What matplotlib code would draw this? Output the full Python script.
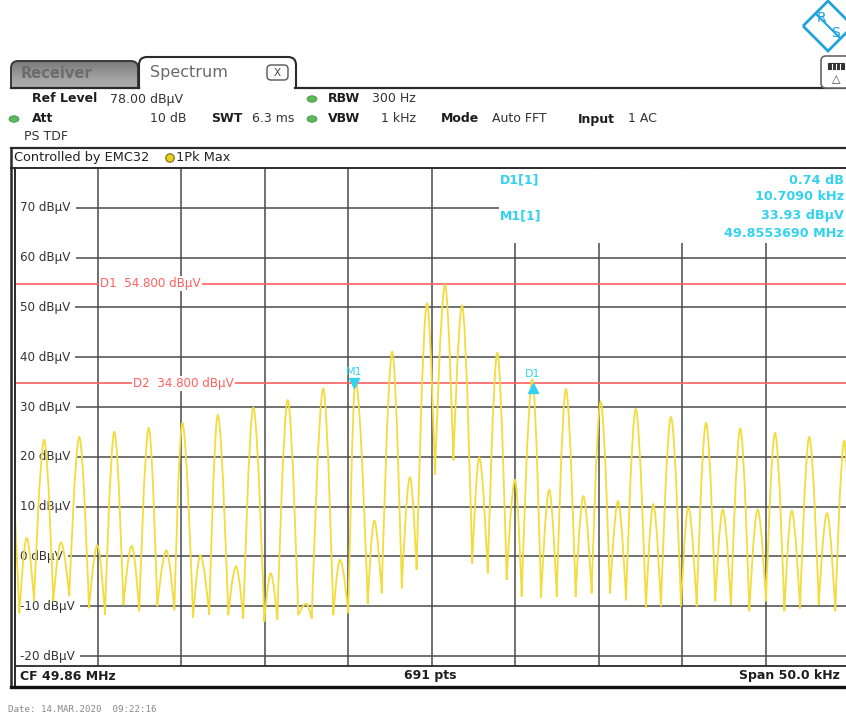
import matplotlib
matplotlib.use("Agg")
import matplotlib.pyplot as plt
from matplotlib.patches import Rectangle, FancyBboxPatch, Polygon, Ellipse, Circle, PathPatch
from matplotlib.path import Path
from matplotlib.colors import LinearSegmentedColormap
import numpy as np

W, H = 846, 721

# trace 1Pk Max: offset from CF in kHz and level in dBuV (peaks / dips)
freq_khz = [-25.00, -24.68, -24.24, -23.80, -23.19, -22.65, -22.19, -21.69, -21.09, -20.51,
            -20.01, -19.55, -18.99, -18.45, -17.95, -17.50, -16.93, -16.42, -15.88, -15.40,
            -14.92, -14.28, -13.84, -13.31, -12.80, -12.17, -11.71, -11.27, -10.67, -10.01,
            -9.63, -9.23, -8.61, -7.98, -7.51, -7.17, -6.48, -5.88, -5.48, -4.98,
            -4.55, -3.82, -3.43, -2.98, -2.35, -1.78, -1.29, -0.89, -0.27, 0.21,
            0.81, 1.31, 1.83, 2.44, 2.86, 3.37, 3.94, 4.50, 5.00, 5.40,
            6.04, 6.56, 7.05, 7.50, 8.05, 8.63, 9.09, 9.59, 10.13, 10.69,
            11.17, 11.65, 12.23, 12.84, 13.28, 13.74, 14.34, 14.94, 15.38, 15.88,
            16.44, 16.99, 17.44, 17.93, 18.49, 19.03, 19.53, 20.03, 20.57, 21.13,
            21.57, 22.07, 22.62, 23.19, 23.68, 24.18, 24.72, 25.00]
level_dbuv = [13.0, -11.4, 3.7, -9.0, 23.4, -9.0, 2.8, -8.0, 24.0, -10.4,
              2.2, -11.7, 25.0, -9.8, 2.1, -11.0, 25.8, -10.0, 1.2, -10.8,
              26.8, -12.3, 0.2, -11.7, 28.4, -11.8, -2.0, -12.5, 29.9, -13.1,
              -3.4, -12.7, 31.4, -11.8, -9.5, -12.5, 33.7, -11.8, -0.7, -11.4,
              35.5, -9.5, 7.2, -7.4, 41.1, -6.4, 15.9, -2.7, 50.8, 16.4,
              54.6, 19.3, 50.4, -1.4, 19.9, -3.4, 40.9, -4.7, 15.4, -8.1,
              35.5, -8.3, 13.4, -8.1, 33.6, -8.1, 12.1, -7.4, 31.1, -7.4,
              11.1, -8.8, 29.6, -10.3, 10.5, -10.0, 28.0, -10.0, 9.9, -10.0,
              26.8, -9.0, 9.4, -9.7, 25.7, -11.0, 9.4, -9.0, 24.8, -11.0,
              9.2, -10.5, 24.0, -9.7, 8.7, -11.0, 23.2, 5.0]

center_mhz = 49.86
span_khz = 50.0
ref_level = 78.0
db_per_div = 10
n_points = 691
y_ticks = [70, 60, 50, 40, 30, 20, 10, 0, -10, -20]

line_names = ["D1", "D2"]
line_levels = [54.8, 34.8]

m1_freq_mhz = 49.8553690
m1_level = 33.93
d1_delta_khz = 10.7090
d1_delta_db = 0.74

YELLOW = "#F2DC3E"
CYAN = "#33D2EE"
RED = "#FF6060"
GRID = "#4a4a4a"
DARK = "#2a2a2a"


def pixel_axes(fig, z):
    ax = fig.add_axes([0, 0, 1, 1], zorder=z)
    ax.set_xlim(0, W)
    ax.set_ylim(H, 0)
    ax.axis("off")
    return ax


def trace_path(xs, ys):
    # rounded lobes, sharp dips (like the analyzer's log display)
    verts = [(xs[0], ys[0])]
    codes = [Path.MOVETO]
    n = len(xs)
    for i in range(n - 1):
        x0, y0, x1, y1 = xs[i], ys[i], xs[i + 1], ys[i + 1]
        dx = x1 - x0
        top0 = 0 < i and y0 > ys[i - 1] and y0 > y1
        top1 = i + 2 < n and y1 > y0 and y1 > ys[i + 2]
        c1 = (x0 + 0.4 * dx, y0) if top0 else (x0, y0)
        c2 = (x1 - 0.4 * dx, y1) if top1 else (x1, y1)
        verts += [c1, c2, (x1, y1)]
        codes += [Path.CURVE4] * 3
    return Path(verts, codes)


def draw_header(bg):
    # Receiver tab (grey, inactive)
    tab = FancyBboxPatch((11, 61), 127, 34, boxstyle="round,pad=0,rounding_size=7",
                         fc="none", ec="#3a3a3a", lw=1.4, zorder=2)
    bg.add_patch(tab)
    cmap = LinearSegmentedColormap.from_list("tab", ["#7a7a7a", "#a2a2a2", "#b8b8b8"])
    grad = np.linspace(0, 1, 50).reshape(-1, 1)
    im = bg.imshow(grad, cmap=cmap, extent=[11, 138, 95, 61], aspect="auto", zorder=1)
    im.set_clip_path(tab)
    bg.text(21, 74, "Receiver", fontsize=10.5, fontweight="bold", color="#6c6c6c",
            va="center", zorder=3)

    # Spectrum tab (active)
    tab2 = FancyBboxPatch((139, 57), 157, 40, boxstyle="round,pad=0,rounding_size=8",
                          fc="white", ec=DARK, lw=1.5, zorder=2)
    bg.add_patch(tab2)
    bg.add_patch(Rectangle((4, 88.8), 300, 10, fc="white", ec="none", zorder=2.5))
    bg.text(150, 73, "Spectrum", fontsize=11.5, color="#6a6a6a", va="center", zorder=3)
    bg.add_patch(FancyBboxPatch((267, 65), 21, 15, boxstyle="round,pad=0,rounding_size=4",
                                fc="white", ec="#555555", lw=1.0, zorder=3))
    bg.text(277.5, 72.5, "X", fontsize=7.5, color="#444444", ha="center", va="center", zorder=4)
    bg.plot([295, W], [88, 88], color=DARK, lw=1.6, zorder=3)
    bg.plot([11, 139], [88, 88], color=DARK, lw=1.6, zorder=3)

    # settings rows
    rows = [
        (32, 99, "Ref Level", True), (110, 99, "78.00 dBµV", False),
        (328, 99, "RBW", True), (372, 99, "300 Hz", False),
        (32, 119, "Att", True), (150, 119, "10 dB", False),
        (211, 119, "SWT", True), (252, 119, "6.3 ms", False),
        (328, 119, "VBW", True), (381, 119, "1 kHz", False),
        (441, 119, "Mode", True), (492, 119, "Auto FFT", False),
        (578, 119, "Input", True), (628, 119, "1 AC", False),
        (24, 137, "PS TDF", False),
    ]
    for x, y, s, bold in rows:
        bg.text(x, y, s, fontsize=9, fontweight="bold" if bold else "normal",
                color="#1e1e1e" if bold else "#333333", va="center", zorder=3)
    for x, y in [(312, 99), (312, 119), (14, 119)]:
        bg.add_patch(Ellipse((x, y), 10, 6.5, fc="#5cb85c", ec="#3d8b3d", lw=0.5, zorder=3))

    # R&S logo
    logo = Polygon([(803, 26), (828, 1), (853, 26), (828, 51)], closed=True,
                   fc="none", ec="#1fa3dc", lw=2.0, zorder=3)
    bg.add_patch(logo)
    bg.plot([815.5, 840.5], [13.5, 38.5], color="#1fa3dc", lw=1.5, zorder=3)
    bg.text(821, 18, "R", fontsize=10, color="#1fa3dc", ha="center", va="center", zorder=3)
    bg.text(835, 33, "S", fontsize=10, color="#1fa3dc", ha="center", va="center", zorder=3)

    # small toolbar icon
    bg.add_patch(FancyBboxPatch((821, 56), 30, 32, boxstyle="round,pad=0,rounding_size=5",
                                fc="white", ec="#666666", lw=1.2, zorder=3))
    bg.add_patch(Rectangle((828, 63), 16, 6, fc="#333333", ec="#333333", lw=0.8, zorder=4))
    for xx in [832, 836, 840]:
        bg.plot([xx, xx], [63.5, 68.5], color="white", lw=0.8, zorder=5)
    bg.text(836, 79, "△", fontsize=8, color="#444444", ha="center", va="center", zorder=4)

    # trace info row
    bg.plot([11, W + 5], [147.5, 147.5], color=DARK, lw=1.6, zorder=3)
    bg.text(14, 157.5, "Controlled by EMC32", fontsize=9.3, color="#222222", va="center", zorder=3)
    bg.add_patch(Circle((170, 158), 4.2, fc="#E8D21E", ec="#7a6a10", lw=0.8, zorder=3))
    bg.text(176, 157.5, "1Pk Max", fontsize=9.3, color="#222222", va="center", zorder=3)


def draw_plot(fig):
    top, bottom = 168, 666
    ax = fig.add_axes([14 / W, (H - bottom) / H, 835 / W, (bottom - top) / H], zorder=1)
    ax.set_xlim(-span_khz / 2, span_khz / 2)
    ax.set_ylim(ref_level - 10 * db_per_div, ref_level)
    ax.set_facecolor("white")
    for sp in ax.spines.values():
        sp.set_visible(False)
    ax.set_xticks([])
    ax.set_yticks([])

    for v in np.arange(-span_khz / 2 + span_khz / 10, span_khz / 2, span_khz / 10):
        ax.axvline(v, color=GRID, lw=1.1, zorder=1)
    for h in y_ticks:
        ax.axhline(h, color=GRID, lw=1.1, zorder=1)
        ax.text(0.0075, h, f"{h} dBµV", transform=ax.get_yaxis_transform(), fontsize=8.6,
                color="#333333", va="center", ha="left", zorder=2,
                bbox=dict(fc="white", ec="none", pad=3.5))

    # display lines
    label_x = [-19.85, -17.87]
    for name, lvl, lx in zip(line_names, line_levels, label_x):
        ax.axhline(lvl, color=RED, lw=1.2, zorder=2)
        ax.text(lx, lvl, f"{name}  {lvl:.3f} dBµV", fontsize=8.6, color=RED, va="center",
                ha="left", zorder=2.5, bbox=dict(fc="white", ec="none", pad=0.8))

    ax.add_patch(PathPatch(trace_path(freq_khz, level_dbuv), fc="none", ec=YELLOW,
                           lw=1.3, zorder=3))

    # markers
    m1_x = (m1_freq_mhz - center_mhz) * 1000
    d1_x = m1_x + d1_delta_khz
    d1_level = m1_level + d1_delta_db
    ax.plot([m1_x], [m1_level + 0.9], marker="v", ms=6.5, color=CYAN, zorder=4)
    ax.plot([d1_x], [d1_level - 0.9], marker="^", ms=6.5, color=CYAN, zorder=4)
    ax.text(m1_x, m1_level + 3.1, "M1", fontsize=8, color=CYAN, ha="center", va="center", zorder=4)
    ax.text(d1_x, d1_level + 1.9, "D1", fontsize=8, color=CYAN, ha="center", va="center", zorder=4)
    return ax


def draw_overlay(ov):
    # marker info block over the grid
    ov.add_patch(Rectangle((499, 169), 360, 74, fc="white", ec="none", zorder=1))
    info_left = [(500, 180, "D1[1]"), (500, 216, "M1[1]")]
    info_right = [(180, f"{d1_delta_db:.2f} dB"), (197, f"{d1_delta_khz:.4f} kHz"),
                  (216, f"{m1_level:.2f} dBµV"), (233.5, f"{m1_freq_mhz:.7f} MHz")]
    for x, y, s in info_left:
        ov.text(x, y, s, fontsize=9, fontweight="bold", color=CYAN, va="center", zorder=2)
    for y, s in info_right:
        ov.text(844, y, s, fontsize=9.2, fontweight="bold", color=CYAN, va="center",
                ha="right", zorder=2)

    # frames
    ov.plot([11, 11], [147.5, 686], color=DARK, lw=1.8, zorder=3)
    ov.plot([15, 15], [167.5, 686], color=DARK, lw=1.4, zorder=3)
    ov.plot([11, W + 5], [167.5, 167.5], color=DARK, lw=1.4, zorder=3)
    ov.plot([15, W + 5], [666, 666], color=DARK, lw=1.3, zorder=3)
    ov.plot([11, W + 5], [686.5, 686.5], color="#111111", lw=2.4, zorder=3)

    # bottom bar
    ov.text(20, 676, f"CF {center_mhz:.2f} MHz", fontsize=9, fontweight="bold",
            color="#1e1e1e", va="center", zorder=3)
    ov.text(430, 676, f"{n_points} pts", fontsize=9, fontweight="bold", color="#1e1e1e",
            va="center", ha="center", zorder=3)
    ov.text(840, 676, f"Span {span_khz:.1f} kHz", fontsize=9, fontweight="bold",
            color="#1e1e1e", va="center", ha="right", zorder=3)

    ov.text(8, 710, "Date: 14.MAR.2020  09:22:16", fontsize=6.6, family="DejaVu Sans Mono",
            color="#8a8a8a", va="center", zorder=3)


def main():
    fig = plt.figure(figsize=(W / 100, H / 100), dpi=100)
    fig.patch.set_facecolor("white")
    bg = pixel_axes(fig, 0)
    draw_header(bg)
    draw_plot(fig)
    ov = pixel_axes(fig, 2)
    draw_overlay(ov)
    fig.savefig("out.png", dpi=100)
    plt.close(fig)


main()
